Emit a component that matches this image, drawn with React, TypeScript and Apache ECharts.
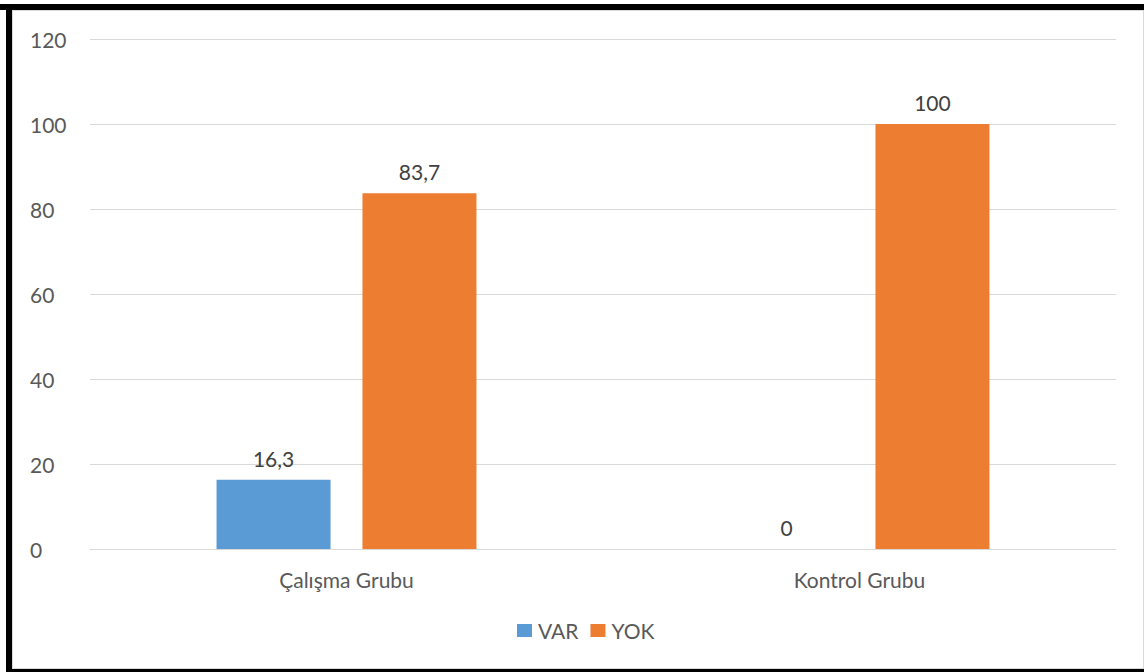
import React, { useEffect, useRef } from "react";
import * as echarts from "echarts";

// Group labels on the x axis
const categories = ["Çalışma Grubu", "Kontrol Grubu"];
// Share of each answer per group (%)
const varValues = [16.3, 0];
const yokValues = [83.7, 100];
// Y-axis range and step
const yMin = 0;
const yMax = 120;
const yStep = 20;

const FONT = "Lato, 'Open Sans', sans-serif";

export default function App() {
  const ref = useRef<HTMLDivElement>(null);

  useEffect(() => {
    if (!ref.current) return;
    const chart = echarts.init(ref.current, undefined, { renderer: "svg" });
    const label = {
      show: true,
      position: "top" as const,
      distance: 11,
      color: "#404040",
      fontSize: 21,
      fontFamily: FONT,
      formatter: (p: any) => String(p.value).replace(".", ","),
    };
    chart.setOption({
      animation: false,
      textStyle: { fontFamily: FONT },
      grid: { left: 90, right: 28, top: 39, bottom: 123 },
      legend: {
        bottom: 26,
        left: 512,
        itemWidth: 15,
        itemHeight: 13,
        itemGap: 12,
        icon: "rect",
        textStyle: { color: "#595959", fontSize: 21, fontFamily: FONT, padding: [0, 0, 0, 1] },
        data: ["VAR", "YOK"],
      },
      xAxis: {
        type: "category",
        data: categories,
        axisLine: { show: true, lineStyle: { color: "#d9d9d9" } },
        axisTick: { show: false },
        axisLabel: { color: "#595959", fontSize: 21, fontFamily: FONT, margin: 20 },
      },
      yAxis: {
        type: "value",
        min: yMin,
        max: yMax,
        interval: yStep,
        axisLine: { show: false },
        axisTick: { show: false },
        splitLine: { lineStyle: { color: "#d9d9d9" } },
        axisLabel: { color: "#595959", fontSize: 21, fontFamily: FONT, align: "left", margin: 60 },
      },
      series: [
        {
          name: "VAR",
          type: "bar",
          data: varValues,
          barWidth: 114,
          barGap: "28%",
          itemStyle: { color: "#5B9BD5" },
          label,
        },
        {
          name: "YOK",
          type: "bar",
          data: yokValues,
          barWidth: 114,
          itemStyle: { color: "#ED7D31" },
          label,
        },
      ],
    });
    return () => chart.dispose();
  }, []);

  return (
    <div style={{ position: "absolute", left: 0, top: 0, width: 1144, height: 672, background: "#fff", overflow: "hidden" }}>
      {/* frame around the chart area */}
      <div style={{ position: "absolute", left: 12, top: 10, width: 1130, height: 657, border: "1px solid #d9d9d9" }} />
      <div style={{ position: "absolute", left: 0, top: 4, width: 1144, height: 6, background: "#000" }} />
      <div style={{ position: "absolute", left: 6, top: 4, width: 6, height: 668, background: "#000" }} />
      <div style={{ position: "absolute", left: 6, top: 669, width: 1138, height: 3, background: "#000" }} />
      <div ref={ref} style={{ position: "absolute", left: 0, top: 0, width: 1144, height: 672 }} />
    </div>
  );
}
